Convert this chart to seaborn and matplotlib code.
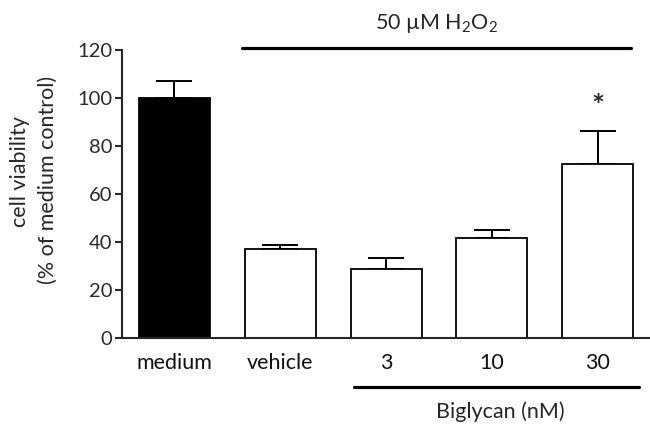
import numpy as np
import pandas as pd
import matplotlib
matplotlib.use("Agg")
import matplotlib.pyplot as plt
import seaborn as sns

# values
groups = ["medium", "vehicle", "3", "10", "30"]
viability = [100.0, 37.0, 28.5, 41.5, 72.6]
sem = [7.1, 1.8, 4.6, 3.3, 13.8]
fills = ["black", "white", "white", "white", "white"]

sns.set_style("ticks")
plt.rcParams["font.family"] = ["Lato", "DejaVu Sans"]
plt.rcParams["font.size"] = 15.5
plt.rcParams["mathtext.fontset"] = "custom"
plt.rcParams["mathtext.rm"] = "Lato"
plt.rcParams["mathtext.it"] = "Lato:italic"

df = pd.DataFrame({"group": groups, "viability": viability})

fig = plt.figure(figsize=(6.5, 4.24), dpi=100)
ax = fig.add_axes([0.188, 0.2035, 0.812, 0.6785])

sns.barplot(data=df, x="group", y="viability", hue="group", palette=fills,
            legend=False, width=0.67, edgecolor="black", linewidth=1.3,
            errorbar=None, ax=ax)
ax.errorbar(np.arange(len(groups)), viability,
            yerr=[np.zeros(len(groups)), sem], fmt="none",
            ecolor="black", elinewidth=1.4, capsize=13, capthick=1.4, zorder=0)

ax.set_xlim(-0.493, 4.494)
ax.set_ylim(0, 120)
ax.set_yticks(range(0, 121, 20))
ax.set_xlabel("")
ax.set_ylabel("")
sns.despine(ax=ax)
for s in ["left", "bottom"]:
    ax.spines[s].set_linewidth(1.5)
ax.tick_params(axis="y", length=5, width=1.5, colors="#2a2a2a", labelsize=14.5, pad=2)
ax.tick_params(axis="x", length=0, labelsize=15.5, pad=11, colors="#111111")

# significance mark
ax.text(4, viability[4] + sem[4] + 10, "*", ha="center", va="center",
        fontsize=22, fontweight="bold")

# treatment bars
ax.plot([0.638, 4.315], [121, 121], color="black", lw=2.3, clip_on=False)
ax.text(2.48, 131, "50 µM H$_\\mathrm{2}$O$_\\mathrm{2}$", ha="center", va="center", fontsize=15.5)
ax.plot([1.697, 4.39], [-20.7, -20.7], color="black", lw=2.3, clip_on=False)
ax.text(3.077, -31, "Biglycan (nM)", ha="center", va="center", fontsize=15.5)

fig.text(0.031, 0.595, "cell viability", rotation=90, ha="center", va="center", fontsize=15.5)
fig.text(0.074, 0.575, "(% of medium control)", rotation=90, ha="center", va="center", fontsize=15.5)

fig.savefig("out.png", dpi=100)
